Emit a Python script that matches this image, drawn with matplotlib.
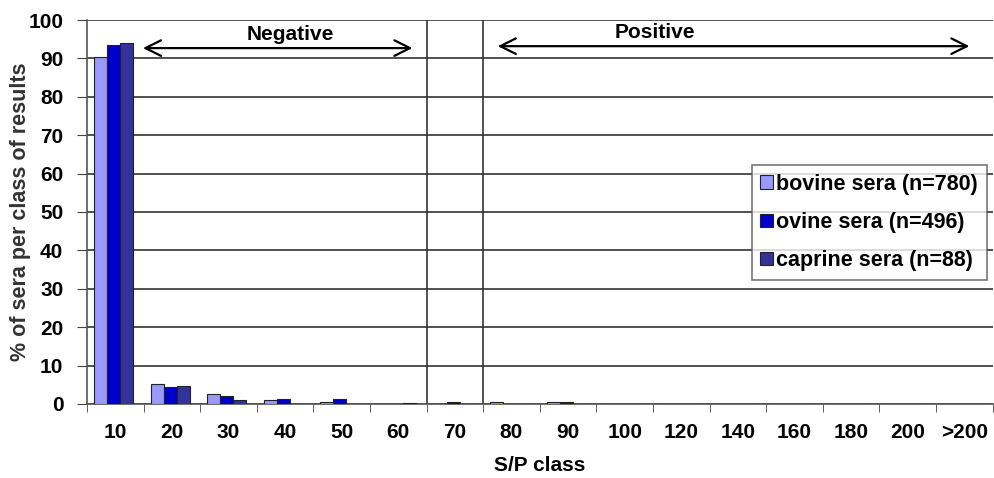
import matplotlib.pyplot as plt
import numpy as np

plt.rcParams['font.family'] = ['Liberation Sans', 'DejaVu Sans']
plt.rcParams['font.weight'] = 'bold'

classes = ['10', '20', '30', '40', '50', '60', '70', '80', '90', '100',
           '120', '140', '160', '180', '200', '>200']
bovine = [90.5, 5.3, 2.5, 0.9, 0.6, 0, 0, 0.5, 0.5, 0, 0, 0, 0, 0, 0, 0]
ovine = [93.6, 4.3, 2.1, 1.3, 1.3, 0, 0.5, 0, 0.5, 0, 0, 0, 0, 0, 0, 0]
caprine = [94.0, 4.6, 1.0, 0, 0, 0.2, 0, 0, 0, 0, 0, 0, 0, 0, 0, 0]
series = [('bovine sera (n=780)', bovine, '#9999ff'),
          ('ovine sera (n=496)', ovine, '#0000cc'),
          ('caprine sera (n=88)', caprine, '#333399')]

fig = plt.figure(figsize=(9.94, 4.78), dpi=100)
ax = fig.add_axes([0.0875, 0.155, 0.911, 0.803])

x = np.arange(len(classes))
w = 0.23
for k, (name, vals, col) in enumerate(series):
    ax.bar(x + (k - 1) * w - 0.03, vals, w, color=col, edgecolor='#222222',
           linewidth=0.8, label=name, zorder=3)

ax.set_xlim(-0.5, len(classes) - 0.5)
ax.set_ylim(0, 100)
ax.set_yticks(range(0, 101, 10))
ax.yaxis.grid(True, color='#333333', linewidth=1.2, zorder=0)
ax.set_xticks(x)
ax.set_xticklabels(classes)
ax.set_xticks(np.arange(-0.5, len(classes), 1), minor=True)
ax.tick_params(axis='x', which='major', length=0, pad=14, labelsize=15)
ax.tick_params(axis='x', which='minor', length=6, direction='out', color='#444444')
ax.tick_params(axis='y', length=7, direction='out', labelsize=15, color='#444444', pad=10)
for s in ['top', 'right']:
    ax.spines[s].set_visible(False)
for s in ['left', 'bottom']:
    ax.spines[s].set_color('#555555')
    ax.spines[s].set_linewidth(1.2)

# separators between negative / doubtful / positive zones
for b in [5.5, 6.5]:
    ax.axvline(b, color='#333333', linewidth=1.2, zorder=2)

ax.annotate('', xy=(0.44, 92.7), xytext=(5.3, 92.7),
            arrowprops=dict(arrowstyle='<->', color='black', lw=1.6,
                            mutation_scale=28), zorder=4)
ax.text(3.09, 96.3, 'Negative', ha='center', va='center', fontsize=15,
        fontweight='bold')
ax.annotate('', xy=(6.71, 93.2), xytext=(15.14, 93.2),
            arrowprops=dict(arrowstyle='<->', color='black', lw=1.6,
                            mutation_scale=28), zorder=4)
ax.text(9.54, 96.8, 'Positive', ha='center', va='center', fontsize=15,
        fontweight='bold')

ax.set_xlabel('S/P class', fontsize=15, fontweight='bold', labelpad=10)
ax.set_ylabel('% of sera per class of results', fontsize=15.5,
              fontweight='bold', color='#333333')
ax.yaxis.set_label_coords(-0.062, 0.5)

leg = ax.legend(loc='upper left', bbox_to_anchor=(0.734, 0.622),
                fontsize=15.5, frameon=True, fancybox=False, edgecolor='#555555',
                handlelength=0.6, handleheight=0.6, handletextpad=0.15,
                labelspacing=0.8, borderpad=0.4, borderaxespad=0)
leg.get_frame().set_linewidth(1.2)
leg.set_zorder(5)

fig.savefig('out.png', dpi=100, facecolor='white')
